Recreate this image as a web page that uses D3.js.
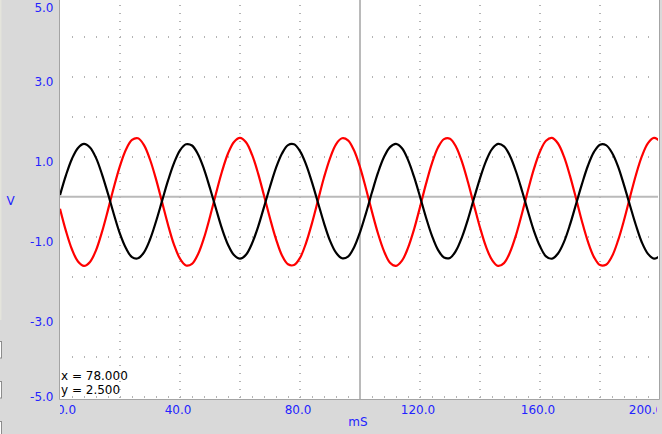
<!DOCTYPE html>
<html>
<head>
<meta charset="utf-8">
<script src="https://cdn.jsdelivr.net/npm/d3@7"></script>
<style>
  html, body { margin: 0; padding: 0; background: #d9d9d9; }
  svg { display: block; }
  text { font-family: "DejaVu Sans", sans-serif; }
</style>
</head>
<body>
<svg id="chart" width="662" height="434"></svg>
<script>
// ---- data ----
const timeMs = [0,2,4,6,8,10,12,14,16,18,20,22,24,26,28,30,32,34,36,38,40,42,44,46,48,50,
  52,54,56,58,60,62,64,66,68,70,72,74,76,78,80,82,84,86,88,90,92,94,96,98,100,
  102,104,106,108,110,112,114,116,118,120,122,124,126,128,130,132,134,136,138,140,
  142,144,146,148,150,152,154,156,158,160,162,164,166,168,170,172,174,176,178,180,
  182,184,186,188,190,192,194,196,198,200];

const blackVolts = [0.04,0.54,0.95,1.22,1.32,1.23,0.97,0.56,0.07,-0.45,-0.93,-1.29,-1.51,-1.54,-1.39,-1.07,
  -0.62,-0.11,0.40,0.84,1.16,1.31,1.28,1.06,0.69,0.21,-0.30,-0.80,-1.20,-1.46,-1.55,
  -1.45,-1.17,-0.76,-0.26,0.25,0.72,1.08,1.29,1.31,1.14,0.81,0.36,-0.15,-0.66,-1.10,
  -1.40,-1.54,-1.50,-1.27,-0.89,-0.41,0.11,0.60,0.99,1.24,1.32,1.21,0.92,0.50,0.00,
  -0.52,-0.98,-1.33,-1.52,-1.53,-1.35,-1.01,-0.56,-0.04,0.46,0.89,1.19,1.32,1.26,1.02,
  0.63,0.15,-0.37,-0.86,-1.24,-1.49,-1.55,-1.42,-1.13,-0.70,-0.19,0.32,0.78,1.12,1.30,
  1.29,1.10,0.76,0.29,-0.22,-0.72,-1.15,-1.43,-1.55,-1.48];

const redVolts = [-0.30,-0.86,-1.32,-1.62,-1.73,-1.63,-1.34,-0.88,-0.33,0.25,0.77,1.18,1.42,1.46,1.29,0.93,
  0.44,-0.13,-0.70,-1.20,-1.55,-1.72,-1.68,-1.44,-1.03,-0.50,0.08,0.63,1.08,1.37,1.47,
  1.36,1.05,0.59,0.03,-0.54,-1.06,-1.47,-1.69,-1.71,-1.53,-1.16,-0.66,-0.09,0.48,0.96,
  1.31,1.46,1.41,1.16,0.74,0.20,-0.38,-0.92,-1.36,-1.65,-1.73,-1.60,-1.28,-0.82,-0.26,
  0.32,0.84,1.23,1.44,1.45,1.25,0.87,0.36,-0.21,-0.77,-1.25,-1.58,-1.73,-1.66,-1.39,
  -0.96,-0.42,0.16,0.70,1.13,1.40,1.47,1.33,1.00,0.52,-0.04,-0.62,-1.13,-1.51,-1.71,
  -1.70,-1.49,-1.10,-0.59,-0.01,0.55,1.02,1.34,1.47,1.39];

const yTickValues = [5, 3, 1, -1, -3, -5];
const yTickLabels = ["5.0", "3.0", "1.0", "-1.0", "-3.0", "-5.0"];
const xTickValues = [0, 40, 80, 120, 160, 200];
const xTickLabels = ["0.0", "40.0", "80.0", "120.0", "160.0", "200.0"];
const gridRowVolts = [-5, -4, -3, -2, -1, 1, 2, 3, 4];
const gridColMs = [20, 40, 60, 80, 120, 140, 160, 180];
const readout = ["x = 78.000", "y = 2.500"];

// ---- layout ----
const svg = d3.select("#chart");
const plot = { left: 60, right: 659, top: 0, bottom: 399 };
const x = d3.scaleLinear().domain([0, 200]).range([60, 660]);
const y = d3.scaleLinear().domain([-5, 5]).range([396.7, -3.3]);

svg.append("rect").attr("width", 662).attr("height", 434).attr("fill", "#d9d9d9");

// window edge artifacts on the left
[[341.5, 358], [381.5, 398], [421.5, 440]].forEach(([a, b]) => {
  svg.append("rect").attr("x", -1).attr("y", a).attr("width", 2.5).attr("height", b - a)
    .attr("fill", "#ffffff").attr("stroke", "#8c8c8c").attr("stroke-width", 1);
});
svg.append("rect").attr("x", 0).attr("y", 0).attr("width", 1.5).attr("height", 320).attr("fill", "#e4e4dc");

svg.append("defs").append("clipPath").attr("id", "clip")
  .append("rect").attr("x", plot.left).attr("y", plot.top)
  .attr("width", plot.right - plot.left - 1).attr("height", plot.bottom - plot.top);

svg.append("rect").attr("x", plot.left).attr("y", plot.top)
  .attr("width", plot.right - plot.left).attr("height", plot.bottom - plot.top)
  .attr("fill", "#ffffff");

const g = svg.append("g").attr("clip-path", "url(#clip)");
const gridColor = "#b4b4b4";

// dotted grid rows: small vertical ticks every 4 mS
const rowTicksMs = d3.range(4, 200, 4);
gridRowVolts.forEach(v => {
  g.selectAll(null).data(rowTicksMs).enter().append("rect")
    .attr("x", d => Math.round(x(d)))
    .attr("y", Math.round(y(v)) - 1)
    .attr("width", 1).attr("height", 2)
    .attr("fill", gridColor);
});
// dotted grid columns: small horizontal ticks every 0.2 V
const colTicksV = d3.range(-25, 26).map(k => k * 0.2);
gridColMs.forEach(t => {
  g.selectAll(null).data(colTicksV).enter().append("rect")
    .attr("x", Math.round(x(t)) - 1)
    .attr("y", d => Math.round(y(d)))
    .attr("width", 2).attr("height", 1)
    .attr("fill", gridColor);
});

// center cross lines
g.append("line").attr("x1", plot.left).attr("x2", plot.right)
  .attr("y1", y(0)).attr("y2", y(0))
  .attr("stroke", "#bababa").attr("stroke-width", 2);
g.append("line").attr("x1", x(100)).attr("x2", x(100))
  .attr("y1", plot.top).attr("y2", plot.bottom)
  .attr("stroke", "#bababa").attr("stroke-width", 2);

// series
const line = d3.line().x((d, i) => x(timeMs[i])).y(d => y(d)).curve(d3.curveCatmullRom);
g.append("path").datum(redVolts).attr("d", line)
  .attr("fill", "none").attr("stroke", "#ff0000").attr("stroke-width", 2.2);
g.append("path").datum(blackVolts).attr("d", line)
  .attr("fill", "none").attr("stroke", "#000000").attr("stroke-width", 2.2);

// readout
readout.forEach((s, i) => {
  svg.append("text").attr("x", 61).attr("y", 380 + i * 14)
    .attr("font-size", 12).attr("fill", "#000").text(s);
});

// borders
svg.append("line").attr("x1", 59.5).attr("x2", 59.5).attr("y1", 0).attr("y2", 399.5)
  .attr("stroke", "#a4a4a4");
svg.append("line").attr("x1", 59.5).attr("x2", 659.5).attr("y1", 399.5).attr("y2", 399.5)
  .attr("stroke", "#a4a4a4");
svg.append("line").attr("x1", 659.5).attr("x2", 659.5).attr("y1", 0).attr("y2", 399.5)
  .attr("stroke", "#a4a4a4");

// y axis labels
const blue = "#2323ff";
svg.selectAll(".ylab").data(yTickValues).enter().append("text")
  .attr("class", "ylab")
  .attr("x", 53.5)
  .attr("y", d => Math.min(Math.max(y(d) + 9, 12), 401))
  .attr("text-anchor", "end").attr("font-size", 12).attr("fill", blue)
  .text((d, i) => yTickLabels[i]);

// x axis labels (clipped to plot width)
svg.append("defs").append("clipPath").attr("id", "xclip")
  .append("rect").attr("x", 60).attr("y", 400).attr("width", 597).attr("height", 30);
svg.append("g").attr("clip-path", "url(#xclip)")
  .selectAll("text").data(xTickValues).enter().append("text")
  .attr("x", d => Math.min(Math.max(x(d) - 2, 66.5), 646))
  .attr("y", 414)
  .attr("text-anchor", "middle").attr("font-size", 12).attr("fill", blue)
  .text((d, i) => xTickLabels[i]);

// axis titles
svg.append("text").attr("x", 358).attr("y", 426).attr("text-anchor", "middle")
  .attr("font-size", 12).attr("fill", blue).text("mS");
svg.append("text").attr("x", 10.5).attr("y", 205).attr("text-anchor", "middle")
  .attr("font-size", 12).attr("fill", blue).text("V");
</script>
</body>
</html>
